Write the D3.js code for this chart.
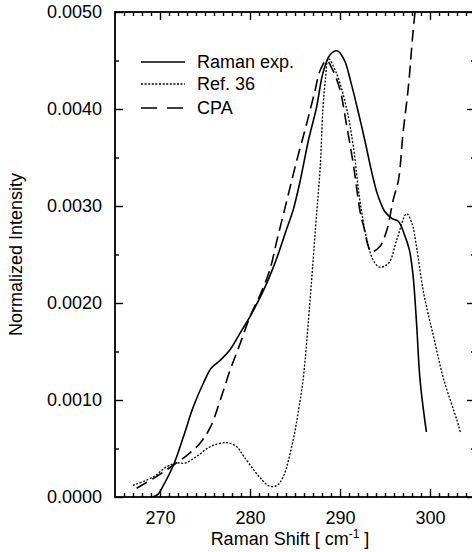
<!DOCTYPE html>
<html>
<head>
<meta charset="utf-8">
<script src="https://cdn.jsdelivr.net/npm/d3@7"></script>
<style>
  html, body { margin: 0; padding: 0; background: #fff; }
  svg { display: block; font-family: "Liberation Sans", Arial, Helvetica, sans-serif; }
</style>
</head>
<body>
<div id="chart"></div>
<script>
// ── Data ──
const ramanX = [269.2, 269.8, 270.2, 271.5, 272.6, 273.7, 274.8, 275.7, 276.7, 277.8, 278.9, 280.0,
  281.5, 282.6, 283.3, 284.1, 284.8, 285.6, 286.5, 287.4, 288.1, 288.9, 289.7, 290.5, 291.2, 292.0,
  292.8, 293.5, 294.2, 295.0, 295.8, 296.5, 297.1, 297.7, 298.1, 298.5, 298.9, 299.6];
const ramanY = [0.0, 0.00003, 0.00009, 0.00033, 0.00062, 0.00093, 0.00117, 0.00133, 0.00141, 0.00152, 0.00169, 0.00186,
  0.00213, 0.00237, 0.00255, 0.00277, 0.00296, 0.00327, 0.00368, 0.00402, 0.00437, 0.00456, 0.00460, 0.00450, 0.00428, 0.00398,
  0.00366, 0.00336, 0.00311, 0.00294, 0.00287, 0.00284, 0.00272, 0.00255, 0.00230, 0.00180, 0.00120, 0.00067];

const refX = [267.0, 269.3, 270.7, 271.8, 272.8, 274.1, 275.6, 277.4, 278.5, 279.3, 280.4, 281.3, 282.2, 283.0, 283.7,
  284.8, 285.4, 285.9, 286.7, 287.3, 287.8, 288.1, 288.4, 288.7, 289.6, 290.7, 291.5, 292.2, 293.0, 293.7,
  294.4, 295.4, 296.3, 297.4, 298.0, 298.5, 299.3, 300.4, 301.5, 303.0, 303.4];
const refY = [0.00012, 0.00021, 0.00031, 0.00035, 0.00035, 0.00042, 0.00052, 0.00056, 0.00052, 0.00042, 0.00028, 0.00018, 0.00011, 0.00012, 0.00021,
  0.00059, 0.00090, 0.00121, 0.00206, 0.00280, 0.00340, 0.00400, 0.00432, 0.00452, 0.00437, 0.00402, 0.00360, 0.00306, 0.00265, 0.00244,
  0.00237, 0.00241, 0.00265, 0.00292, 0.00282, 0.00258, 0.00210, 0.00165, 0.00122, 0.00079, 0.00066];

const cpaX = [267.4, 269.6, 271.5, 273.0, 274.4, 275.6, 276.7, 277.8, 278.9, 280.0, 281.2, 282.2, 283.0, 284.1, 285.2,
  286.3, 287.2, 287.8, 288.5, 289.2, 290.0, 290.7, 291.5, 292.2, 292.6, 293.5, 294.4, 295.2, 295.9, 296.5,
  297.0, 297.6, 298.1, 298.45];
const cpaY = [0.00009, 0.00021, 0.00033, 0.00043, 0.00055, 0.00072, 0.00100, 0.00131, 0.00158, 0.00186, 0.00210, 0.00234, 0.00265, 0.00306, 0.00347,
  0.00385, 0.00418, 0.00440, 0.00450, 0.00440, 0.00420, 0.00385, 0.00342, 0.00296, 0.00280, 0.00253, 0.00258, 0.00275, 0.00306, 0.00327,
  0.00375, 0.00423, 0.00478, 0.00510];

const xTicks = [270, 280, 290, 300];
const yTicks = [0, 0.001, 0.002, 0.003, 0.004, 0.005];

const series = [
  { name: "Raman exp.", xs: ramanX, ys: ramanY, dash: null, width: 1.6 },
  { name: "Ref. 36",    xs: refX,   ys: refY,   dash: "2,1.6", width: 1.3 },
  { name: "CPA",        xs: cpaX,   ys: cpaY,   dash: "12,6", width: 1.6 },
];

// ── Layout ──
const W = 472, H = 552;
const m = { left: 115, top: 12, right: 475, bottom: 497 };

const x = d3.scaleLinear().domain([265, 305]).range([m.left, m.right]);
const y = d3.scaleLinear().domain([0, 0.005]).range([m.bottom, m.top]);

const svg = d3.select("#chart").append("svg")
  .attr("width", W).attr("height", H);

svg.append("defs").append("clipPath").attr("id", "plot-clip")
  .append("rect")
  .attr("x", m.left).attr("y", m.top)
  .attr("width", m.right - m.left).attr("height", m.bottom - m.top);

// ── Axes (ticks inward on all four sides) ──
const fmt = d3.format(".4f");
const minorX = d3.range(266, 305).filter(v => v % 10 !== 0);
const minorY = [0.0005, 0.0015, 0.0025, 0.0035, 0.0045];

function styleAxis(g) {
  g.select(".domain").remove();
  g.selectAll(".tick line").attr("stroke", "#000").attr("stroke-width", 1.4);
  g.selectAll(".tick text").attr("fill", "#000").attr("font-size", "18px");
}

svg.append("g").attr("transform", `translate(0,${m.bottom})`)
  .call(d3.axisBottom(x).tickValues(xTicks).tickSizeInner(-8).tickSizeOuter(0).tickPadding(14))
  .call(styleAxis);
svg.append("g").attr("transform", `translate(0,${m.bottom})`)
  .call(d3.axisBottom(x).tickValues(minorX).tickSize(-4).tickFormat(""))
  .call(styleAxis);
svg.append("g").attr("transform", `translate(0,${m.top})`)
  .call(d3.axisTop(x).tickValues(xTicks).tickSize(-8).tickFormat(""))
  .call(styleAxis);
svg.append("g").attr("transform", `translate(0,${m.top})`)
  .call(d3.axisTop(x).tickValues(minorX).tickSize(-4).tickFormat(""))
  .call(styleAxis);

svg.append("g").attr("transform", `translate(${m.left},0)`)
  .call(d3.axisLeft(y).tickValues(yTicks).tickSizeInner(-8).tickSizeOuter(0).tickPadding(13).tickFormat(fmt))
  .call(styleAxis);
svg.append("g").attr("transform", `translate(${m.left},0)`)
  .call(d3.axisLeft(y).tickValues(minorY).tickSize(-4).tickFormat(""))
  .call(styleAxis);
svg.append("g").attr("transform", `translate(${m.right},0)`)
  .call(d3.axisRight(y).tickValues(yTicks).tickSize(-8).tickFormat(""))
  .call(styleAxis);
svg.append("g").attr("transform", `translate(${m.right},0)`)
  .call(d3.axisRight(y).tickValues(minorY).tickSize(-4).tickFormat(""))
  .call(styleAxis);

// Frame
svg.append("rect")
  .attr("x", m.left).attr("y", m.top)
  .attr("width", m.right - m.left).attr("height", m.bottom - m.top)
  .attr("fill", "none").attr("stroke", "#000").attr("stroke-width", 1.8);

// ── Curves ──
const line = d3.line()
  .x(d => x(d[0])).y(d => y(d[1]))
  .curve(d3.curveCatmullRom.alpha(0.5));

svg.append("g").attr("clip-path", "url(#plot-clip)")
  .selectAll("path")
  .data(series)
  .join("path")
  .attr("d", s => line(s.xs.map((v, i) => [v, s.ys[i]])))
  .attr("fill", "none")
  .attr("stroke", "#000")
  .attr("stroke-width", s => s.width)
  .attr("stroke-dasharray", s => s.dash);

// ── Legend ──
const legend = svg.append("g");
const legendRows = [62, 84, 108];
series.forEach((s, i) => {
  legend.append("line")
    .attr("x1", 141).attr("x2", 185)
    .attr("y1", legendRows[i]).attr("y2", legendRows[i])
    .attr("stroke", "#000")
    .attr("stroke-width", s.width)
    .attr("stroke-dasharray", s.dash === "12,6" ? "16,10" : s.dash);
  legend.append("text")
    .attr("x", 197).attr("y", legendRows[i])
    .attr("dy", "0.35em")
    .attr("font-size", "18px")
    .text(s.name);
});

// ── Axis titles ──
const xt = svg.append("text")
  .attr("x", 290).attr("y", 545)
  .attr("text-anchor", "middle")
  .attr("font-size", "18px");
xt.append("tspan").text("Raman Shift [ cm");
xt.append("tspan").attr("dy", -7).attr("font-size", "12px").text("-1");
xt.append("tspan").attr("dy", 7).text(" ]");

svg.append("text")
  .attr("transform", `translate(22,${(m.top + m.bottom) / 2}) rotate(-90)`)
  .attr("text-anchor", "middle")
  .attr("font-size", "18px")
  .text("Normalized Intensity");
</script>
</body>
</html>
